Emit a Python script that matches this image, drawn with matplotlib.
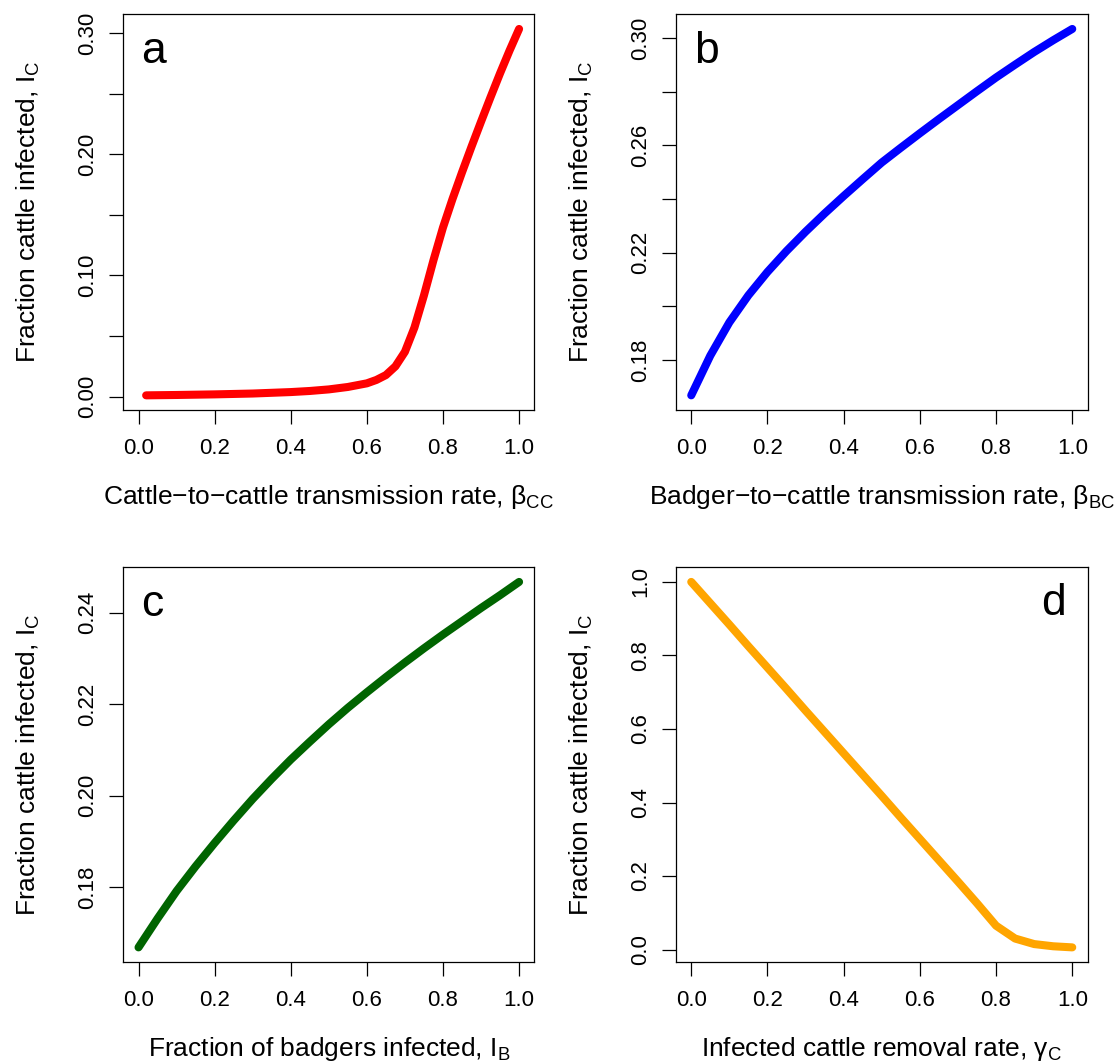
import matplotlib
matplotlib.use("Agg")
import matplotlib.pyplot as plt

plt.rcParams['font.family'] = ['Liberation Sans', 'DejaVu Sans']
plt.rcParams['mathtext.fontset'] = 'custom'
plt.rcParams['mathtext.rm'] = 'Liberation Sans'
plt.rcParams['mathtext.it'] = 'Liberation Sans:italic'
plt.rcParams['mathtext.bf'] = 'Liberation Sans:bold'

# panel a: cattle-to-cattle transmission rate
beta_cc = [0.02, 0.1, 0.2, 0.3, 0.4, 0.45, 0.5, 0.55, 0.6, 0.625, 0.65, 0.675,
           0.7, 0.725, 0.75, 0.775, 0.8, 0.825, 0.85, 0.875, 0.9, 0.925, 0.95,
           0.975, 1.0]
ic_a = [0.0011, 0.0014, 0.0019, 0.0026, 0.0038, 0.0047, 0.0060, 0.0080, 0.0110,
        0.0138, 0.0178, 0.0250, 0.0370, 0.0570, 0.0835, 0.1125, 0.1395, 0.1630,
        0.1850, 0.2062, 0.2268, 0.2470, 0.2667, 0.2855, 0.3033]

# panel b: badger-to-cattle transmission rate
beta_bc = [0.0, 0.05, 0.1, 0.15, 0.2, 0.25, 0.3, 0.35, 0.4, 0.45, 0.5, 0.55, 0.6,
           0.65, 0.7, 0.75, 0.8, 0.85, 0.9, 0.95, 1.0]
ic_b = [0.1668, 0.1816, 0.1940, 0.2041, 0.2128, 0.2206, 0.2278, 0.2346, 0.2411,
        0.2474, 0.2536, 0.2591, 0.2645, 0.2698, 0.2750, 0.2802, 0.2853, 0.2901,
        0.2948, 0.2992, 0.3034]

# panel c: fraction of badgers infected
i_b = [0.0, 0.05, 0.1, 0.15, 0.2, 0.25, 0.3, 0.35, 0.4, 0.45, 0.5, 0.55, 0.6,
       0.65, 0.7, 0.75, 0.8, 0.85, 0.9, 0.95, 1.0]
ic_c = [0.1669, 0.1732, 0.1792, 0.1846, 0.1897, 0.1946, 0.1993, 0.2037, 0.2079,
        0.2118, 0.2156, 0.2192, 0.2226, 0.2259, 0.2291, 0.2322, 0.2352, 0.2381,
        0.2410, 0.2438, 0.2467]

# panel d: infected cattle removal rate
gamma_c = [0.0, 0.05, 0.1, 0.15, 0.2, 0.25, 0.3, 0.35, 0.4, 0.45, 0.5, 0.55, 0.6,
           0.65, 0.7, 0.75, 0.8, 0.85, 0.9, 0.95, 1.0]
ic_d = [1.000, 0.942, 0.884, 0.825, 0.767, 0.709, 0.650, 0.592, 0.534, 0.476,
        0.418, 0.359, 0.301, 0.243, 0.185, 0.126, 0.065, 0.030, 0.015, 0.009, 0.006]

xticks = [0.0, 0.2, 0.4, 0.6, 0.8, 1.0]
xticklabels = ['0.0', '0.2', '0.4', '0.6', '0.8', '1.0']

panels = [
    # (x, y, colour, letter, letter side, xlabel, yticks, ytick labels)
    (beta_cc, ic_a, '#FF0000', 'a', 'left',
     'Cattle\u2212to\u2212cattle transmission rate, \u03b2$_{\\mathrm{CC}}$',
     [0.0, 0.05, 0.10, 0.15, 0.20, 0.25, 0.30],
     ['0.00', '', '0.10', '', '0.20', '', '0.30']),
    (beta_bc, ic_b, '#0000FF', 'b', 'left',
     'Badger\u2212to\u2212cattle transmission rate, \u03b2$_{\\mathrm{BC}}$',
     [0.18, 0.20, 0.22, 0.24, 0.26, 0.28, 0.30],
     ['0.18', '', '0.22', '', '0.26', '', '0.30']),
    (i_b, ic_c, '#006400', 'c', 'left',
     'Fraction of badgers infected, I$_{\\mathrm{B}}$',
     [0.18, 0.20, 0.22, 0.24],
     ['0.18', '0.20', '0.22', '0.24']),
    (gamma_c, ic_d, '#FFA500', 'd', 'right',
     'Infected cattle removal rate, \u03b3$_{\\mathrm{C}}$',
     [0.0, 0.2, 0.4, 0.6, 0.8, 1.0],
     ['0.0', '0.2', '0.4', '0.6', '0.8', '1.0']),
]

W, H = 1117, 1064
fig = plt.figure(figsize=(W / 100, H / 100), dpi=100)

# box positions in pixels: left, top, right, bottom
boxes = [(123.3, 14.3, 534.3, 410.0),
         (676.0, 14.3, 1087.5, 410.0),
         (123.3, 567.3, 534.3, 962.0),
         (676.0, 567.3, 1087.5, 962.0)]

for (x, y, col, letter, side, xlab, yt, ytl), (l, t, r, b) in zip(panels, boxes):
    ax = fig.add_axes([l / W, 1 - b / H, (r - l) / W, (b - t) / H])
    ax.plot(x, y, color=col, lw=5.8, solid_capstyle='round', solid_joinstyle='round')
    ax.set_xlim(-0.04, 1.04)
    ymin, ymax = min(y), max(y)
    pad = 0.04 * (ymax - ymin)
    ax.set_ylim(ymin - pad, ymax + pad)

    ax.set_xticks(xticks)
    ax.set_xticklabels(xticklabels)
    ax.set_yticks(yt)
    ax.set_yticklabels(ytl, rotation=90, va='center')
    ax.tick_params(direction='out', length=10, width=0.9, labelsize=16, colors='black')
    ax.tick_params(axis='x', pad=10)
    ax.tick_params(axis='y', pad=8)
    for sp in ax.spines.values():
        sp.set_linewidth(0.9)

    ax.set_xlabel(xlab, fontsize=19)
    ax.xaxis.label.set_va('baseline')
    ax.xaxis.set_label_coords(0.5, -94 / (b - t))
    ax.set_ylabel('Fraction cattle infected, I$_{\\mathrm{C}}$', fontsize=19)
    ax.yaxis.label.set_va('baseline')
    ax.yaxis.set_label_coords(-87 / (r - l), 0.5)

    if side == 'left':
        ax.text(0.043, 0.876, letter, transform=ax.transAxes, fontsize=32,
                ha='left', va='baseline')
    else:
        ax.text(0.947, 0.879, letter, transform=ax.transAxes, fontsize=32,
                ha='right', va='baseline')

fig.savefig('out.png', dpi=100)
